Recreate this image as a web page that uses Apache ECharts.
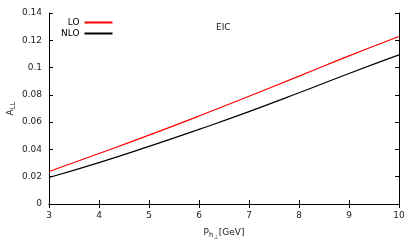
<!DOCTYPE html>
<html><head><meta charset="utf-8">
<script src="https://cdn.jsdelivr.net/npm/echarts@6/dist/echarts.min.js"></script>
<style>html,body{margin:0;padding:0;background:#fff}#c{width:415px;height:249px}</style>
</head><body><div id="c"></div>
<script>
const xValues = [3, 4, 5, 6, 7, 8, 9, 10];
const loValues = [0.0238, 0.0370, 0.0505, 0.0645, 0.0790, 0.0937, 0.1086, 0.1228];
const nloValues = [0.0194, 0.0303, 0.0422, 0.0547, 0.0677, 0.0815, 0.0957, 0.1093];
const seriesNames = ['LO', 'NLO'];
const yTicks = [0, 0.02, 0.04, 0.06, 0.08, 0.1, 0.12, 0.14];
const F = 'DejaVu Sans';
const chart = echarts.init(document.getElementById('c'));
const axisCommon = {
  axisLine: {show: true, lineStyle: {color: '#000', width: 1}},
  axisTick: {show: true, inside: true, length: 4, lineStyle: {color: '#000'}},
  splitLine: {show: false}
};
chart.setOption({
  animation: false,
  textStyle: {fontFamily: F},
  grid: {left: 49, right: 16, top: 13, bottom: 45, containLabel: false, outerBoundsMode: 'none'},
  legend: {
    data: seriesNames, orient: 'vertical', align: 'right',
    left: 56, top: 13, itemGap: 2, itemWidth: 28, itemHeight: 2, icon: 'rect',
    textStyle: {fontFamily: F, fontSize: 9, color: '#000', padding: [0, 0, 0, 0]}
  },
  graphic: [{type: 'text', left: 216, top: 23, style: {text: 'EIC', font: '9px ' + F, fill: '#222'}}],
  xAxis: [
    Object.assign({type: 'value', min: 3, max: 10, interval: 1, position: 'bottom',
      name: '{p|P}{s|h}{t|⊥}{p|[GeV]}', nameLocation: 'middle', nameGap: 21,
      nameTextStyle: {rich: {p: {fontSize: 9, fontFamily: F, color: '#222'}, s: {fontSize: 7, fontFamily: F, color: '#222', padding: [6, 0, 0, 0]}, t: {fontSize: 6, fontFamily: F, color: '#222', padding: [9, 0, 0, 0]}}},
      axisLabel: {fontSize: 9, fontFamily: F, color: '#222', margin: 7}}, axisCommon),
    Object.assign({type: 'value', min: 3, max: 10, interval: 1, position: 'top', axisLabel: {show: false}}, axisCommon)
  ],
  yAxis: [
    Object.assign({type: 'value', min: 0, max: 0.14, interval: 0.02, position: 'left',
      name: '{p|A}{s|LL}', nameLocation: 'middle', nameGap: 32, nameRotate: 90, nameMoveOverlap: false,
      nameTextStyle: {rich: {p: {fontSize: 9, fontFamily: F, color: '#222'}, s: {fontSize: 7, fontFamily: F, color: '#222', padding: [5, 0, 0, 0]}}},
      axisLabel: {fontSize: 9, fontFamily: F, color: '#222', margin: 7, formatter: v => yTicks.includes(+v.toFixed(2)) ? String(+v.toFixed(2)) : ''}}, axisCommon),
    Object.assign({type: 'value', min: 0, max: 0.14, interval: 0.02, position: 'right', axisLabel: {show: false}}, axisCommon)
  ],
  series: [
    {name: seriesNames[0], type: 'line', data: xValues.map((x, i) => [x, loValues[i]]), smooth: true, symbol: 'none', color: '#ff0000', lineStyle: {width: 1.2, color: '#ff0000'}},
    {name: seriesNames[1], type: 'line', data: xValues.map((x, i) => [x, nloValues[i]]), smooth: true, symbol: 'none', color: '#000000', lineStyle: {width: 1.2, color: '#000000'}}
  ]
});
</script></body></html>
